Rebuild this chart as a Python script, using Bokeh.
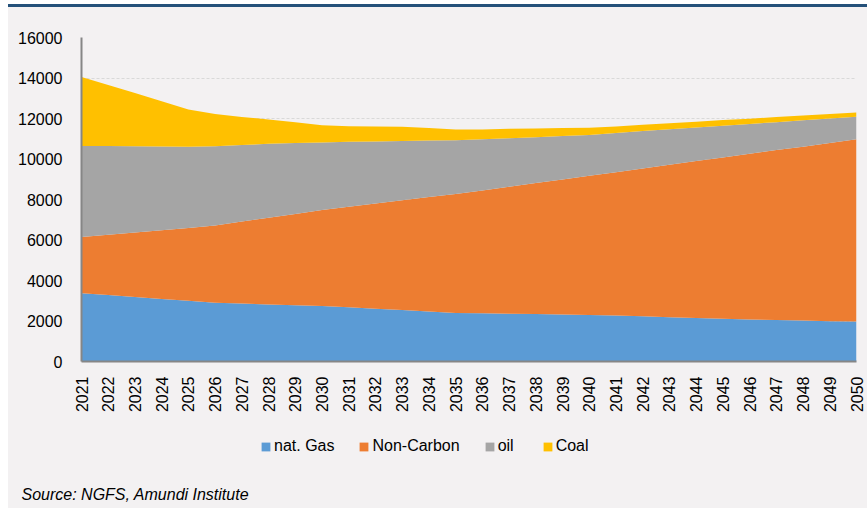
from math import pi
from bokeh.plotting import figure
from bokeh.models import ColumnDataSource, Range1d, FixedTicker, Title, Div, Legend, LegendItem
from bokeh.layouts import column
from bokeh.embed import file_html
from bokeh.resources import INLINE

years = list(range(2021, 2051))
nat_gas = [3370, 3280, 3190, 3090, 3000, 2900, 2860, 2820, 2780, 2740,
           2680, 2610, 2540, 2470, 2400, 2380, 2360, 2340, 2320, 2300,
           2270, 2230, 2190, 2150, 2110, 2080, 2050, 2020, 1990, 1970]
non_carbon = [2775, 2980, 3180, 3390, 3590, 3820, 4050, 4280, 4510, 4740,
              4960, 5190, 5420, 5650, 5870, 6070, 6270, 6470, 6670, 6870,
              7080, 7300, 7530, 7750, 7970, 8180, 8390, 8590, 8800, 9000]
oil = [4500, 4380, 4260, 4135, 4010, 3910, 3780, 3650, 3500, 3340,
       3210, 3070, 2930, 2790, 2660, 2520, 2390, 2270, 2140, 2010,
       1940, 1850, 1750, 1660, 1565, 1470, 1380, 1300, 1210, 1115]
coal = [3400, 3020, 2630, 2235, 1850, 1590, 1390, 1200, 1020, 850,
        770, 730, 700, 615, 530, 490, 470, 430, 395, 360,
        320, 310, 290, 280, 275, 260, 250, 240, 220, 215]
series_names = ["nat. Gas", "Non-Carbon", "oil", "Coal"]
series_colors = ["#5B9BD5", "#ED7D31", "#A5A5A5", "#FFC000"]
y_ticks = [0, 2000, 4000, 6000, 8000, 10000, 12000, 14000, 16000]
source_text = "Source: NGFS, Amundi Institute"

BG = "#F3F1F2"
FONT = "Liberation Sans"
W = 859
FRAME_W = 775

src = ColumnDataSource(dict(year=years, gas=nat_gas, nc=non_carbon, oil=oil, coal=coal))

# ---- main chart ----
p = figure(width=W, height=413, output_backend="svg", toolbar_location=None,
           x_range=Range1d(years[0], years[-1]), y_range=Range1d(0, 16000),
           min_border_left=73, min_border_right=11, min_border_top=30, min_border_bottom=59)
p.background_fill_color = BG
p.border_fill_color = BG
p.outline_line_color = None

p.varea_stack(["gas", "nc", "oil", "coal"], x="year", source=src, color=series_colors)

for ax in (p.xaxis[0], p.yaxis[0]):
    ax.axis_line_color = "#868686"
    ax.axis_line_width = 2
    ax.major_tick_line_color = None
    ax.minor_tick_line_color = None
    ax.major_tick_out = 0
    ax.major_tick_in = 0
    ax.major_label_text_font = FONT
    ax.major_label_text_font_size = "16px"
    ax.major_label_text_color = "#000000"

p.yaxis[0].ticker = FixedTicker(ticks=y_ticks)
p.yaxis[0].major_label_standoff = 19
p.xaxis[0].ticker = FixedTicker(ticks=years)
p.xaxis[0].major_label_orientation = pi / 2
p.xaxis[0].major_label_standoff = 15

p.xgrid.grid_line_color = None
p.ygrid.ticker = FixedTicker(ticks=y_ticks)
p.ygrid.grid_line_color = "#D9D9D9"
p.ygrid.grid_line_dash = "3 2"
p.ygrid.grid_line_width = 1

# ---- legend + source strip ----
f2 = figure(width=W, height=82, output_backend="svg", toolbar_location=None,
            x_range=Range1d(0, FRAME_W), y_range=Range1d(0, 100),
            min_border_left=73, min_border_right=11, min_border_top=0, min_border_bottom=10)
f2.background_fill_color = BG
f2.border_fill_color = BG
f2.outline_line_color = None
f2.axis.visible = False
f2.grid.visible = False
rs = f2.varea_stack(["gas", "nc", "oil", "coal"], x="year", source=src, color=series_colors)

lg = Legend(items=[LegendItem(label=n, renderers=[r]) for n, r in zip(series_names, rs)],
            orientation="horizontal", location=(179, 28), padding=0, margin=0, spacing=24,
            glyph_width=11, glyph_height=11, label_standoff=3, label_height=16,
            label_text_font=FONT, label_text_font_size="16px", label_text_color="#000000",
            border_line_color=None, background_fill_alpha=0)
f2.add_layout(lg)

f2.add_layout(Title(text=source_text, align="left", offset=-60, standoff=0,
                    text_font=FONT, text_font_size="16px", text_font_style="italic",
                    text_color="#000000"), "below")

bar = Div(width=W, height=3, margin=0, styles={"background-color": "#24517A"})
pad = Div(width=W, height=6, margin=0, styles={"background-color": BG})
layout = column(bar, p, f2, pad, spacing=0, margin=(4, 0, 0, 8),
                styles={"background-color": BG})

open("out.html", "w").write(file_html(layout, INLINE))
